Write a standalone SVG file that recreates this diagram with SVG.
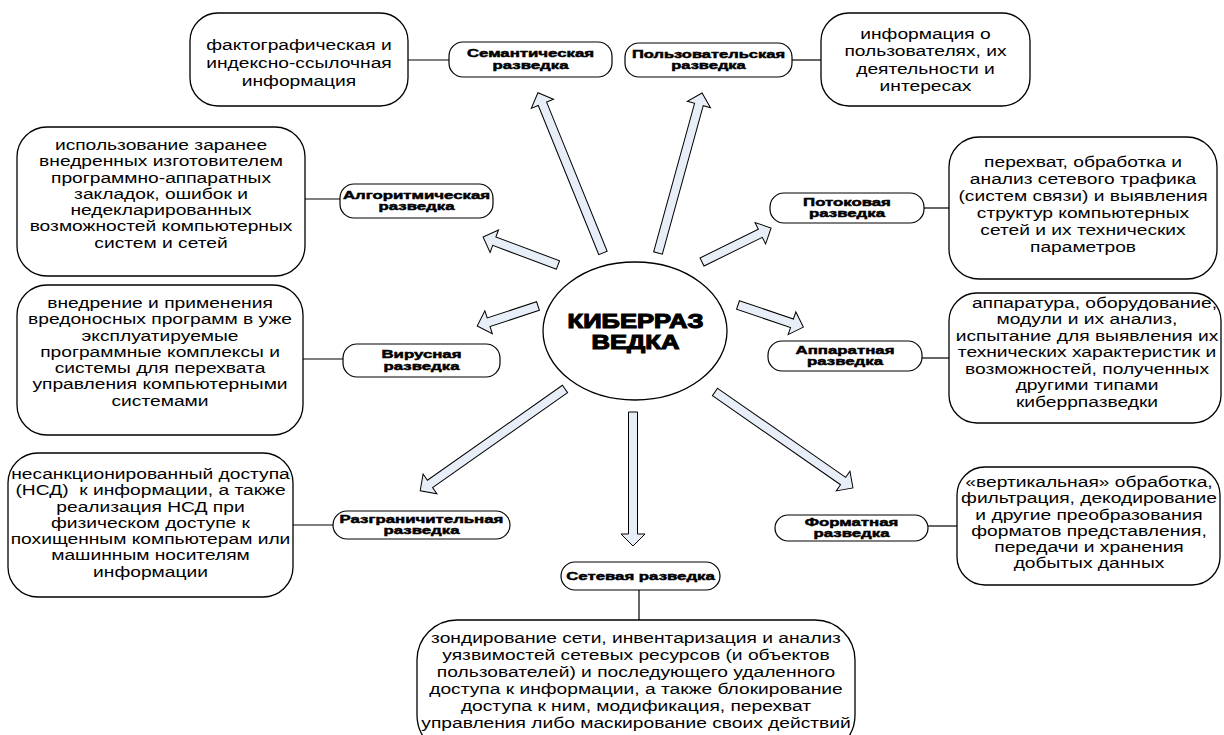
<svg xmlns="http://www.w3.org/2000/svg" width="1224" height="735" viewBox="0 0 1224 735">
<style>
.box{fill:#fff;stroke:#000;stroke-width:1.3}
.lbl{fill:#fff;stroke:#000;stroke-width:1.2}
.t{font-family:"Liberation Sans",Arial,sans-serif;font-size:15.5px;text-anchor:middle;fill:#000}
.lt{font-family:"Liberation Sans",Arial,sans-serif;font-size:10.5px;font-weight:bold;text-anchor:middle;fill:#000;stroke:#000;stroke-width:0.45}
.ct{font-family:"Liberation Sans",Arial,sans-serif;font-size:20px;font-weight:bold;text-anchor:middle;fill:#000;stroke:#000;stroke-width:1.1}
.arr{fill:#E8EEF8;stroke:#000;stroke-width:1}
.con{stroke:#000;stroke-width:1.2;fill:none}
</style>
<rect width="1224" height="735" fill="#fff"/>

<g id="connectors">
  <line class="con" x1="408" y1="60" x2="449" y2="60"/>
  <line class="con" x1="792" y1="60" x2="821" y2="60"/>
  <line class="con" x1="305" y1="199" x2="340" y2="199"/>
  <line class="con" x1="924" y1="208" x2="949" y2="208"/>
  <line class="con" x1="303" y1="359" x2="343" y2="359"/>
  <line class="con" x1="922" y1="358" x2="949" y2="358"/>
  <line class="con" x1="293" y1="525" x2="333" y2="525"/>
  <line class="con" x1="928" y1="526" x2="957" y2="526"/>
  <line class="con" x1="639" y1="590" x2="639" y2="620"/>
  <path class="arr" transform="translate(603,253) rotate(-112.1)" d="M0,-4.5 H161 V-12 L173,0 L161,12 V4.5 H0 Z"/>
  <path class="arr" transform="translate(658,253) rotate(-74.6)" d="M0,-4.5 H154 V-12 L166,0 L154,12 V4.5 H0 Z"/>
  <path class="arr" transform="translate(558,265) rotate(-159.5)" d="M0,-4.5 H68 V-12 L80,0 L68,12 V4.5 H0 Z"/>
  <path class="arr" transform="translate(538,306) rotate(161.8)" d="M0,-4.5 H52 V-12 L64,0 L52,12 V4.5 H0 Z"/>
  <path class="arr" transform="translate(565,389) rotate(144.9)" d="M0,-4.5 H165 V-12 L177,0 L165,12 V4.5 H0 Z"/>
  <path class="arr" transform="translate(633,412) rotate(90)" d="M0,-4.5 H122 V-12 L134,0 L122,12 V4.5 H0 Z"/>
  <path class="arr" transform="translate(715,392) rotate(34.8)" d="M0,-4.5 H156 V-12 L168,0 L156,12 V4.5 H0 Z"/>
  <path class="arr" transform="translate(738,305) rotate(18.7)" d="M0,-4.5 H57 V-12 L69,0 L57,12 V4.5 H0 Z"/>
  <path class="arr" transform="translate(702,262) rotate(-26.2)" d="M0,-4.5 H65 V-12 L77,0 L65,12 V4.5 H0 Z"/>
</g>

<g id="center">
  <ellipse cx="635" cy="331" rx="92" ry="69" fill="#fff" stroke="#000" stroke-width="1.3"/>
  <text class="ct" transform="translate(635.5,0) scale(1.28,1)"><tspan x="0" y="328">КИБЕРРАЗ</tspan><tspan x="0" y="349">ВЕДКА</tspan></text>
</g>

<g id="semantic">
  <rect class="lbl" x="449" y="42" width="163" height="35" rx="14"/>
  <text class="lt" transform="translate(530.5,0) scale(1.6,1)"><tspan x="0" y="57.5">Семантическая</tspan><tspan x="0" y="69">разведка</tspan></text>
</g>
<g id="semantic-info">
  <rect class="box" x="190" y="13" width="218" height="93" rx="28"/>
  <text class="t" transform="translate(299,0) scale(1.24,1)"><tspan x="0" y="50">фактографическая и</tspan><tspan x="0" y="68">индексно-ссылочная</tspan><tspan x="0" y="86">информация</tspan></text>
</g>

<g id="user">
  <rect class="lbl" x="625" y="43" width="167" height="34" rx="14"/>
  <text class="lt" transform="translate(708.5,0) scale(1.57,1)"><tspan x="0" y="58">Пользовательская</tspan><tspan x="0" y="69.5">разведка</tspan></text>
</g>
<g id="user-info">
  <rect class="box" x="821" y="13" width="209" height="93" rx="28"/>
  <text class="t" transform="translate(925.5,0) scale(1.24,1)"><tspan x="0" y="39">информация о</tspan><tspan x="0" y="56.5">пользователях, их</tspan><tspan x="0" y="74">деятельности и</tspan><tspan x="0" y="91.5">интересах</tspan></text>
</g>

<g id="algo">
  <rect class="lbl" x="340" y="184" width="153" height="34" rx="14"/>
  <text class="lt" transform="translate(416.5,0) scale(1.6,1)"><tspan x="0" y="199">Алгоритмическая</tspan><tspan x="0" y="210.5">разведка</tspan></text>
</g>
<g id="algo-info">
  <rect class="box" x="17" y="127" width="288" height="149" rx="30"/>
  <text class="t" transform="translate(161,0) scale(1.24,1)"><tspan x="0" y="150">использование заранее</tspan><tspan x="0" y="166.3">внедренных изготовителем</tspan><tspan x="0" y="182.6">программно-аппаратных</tspan><tspan x="0" y="198.9">закладок, ошибок и</tspan><tspan x="0" y="215.2">недекларированных</tspan><tspan x="0" y="231.5">возможностей компьютерных</tspan><tspan x="0" y="247.8">систем и сетей</tspan></text>
</g>

<g id="stream">
  <rect class="lbl" x="770" y="193" width="154" height="30" rx="14"/>
  <text class="lt" transform="translate(847,0) scale(1.6,1)"><tspan x="0" y="206">Потоковая</tspan><tspan x="0" y="217.5">разведка</tspan></text>
</g>
<g id="stream-info">
  <rect class="box" x="949" y="137" width="268" height="142" rx="30"/>
  <text class="t" transform="translate(1083,0) scale(1.24,1)"><tspan x="0" y="167">перехват, обработка и</tspan><tspan x="0" y="184">анализ сетевого трафика</tspan><tspan x="0" y="201">(систем связи) и выявления</tspan><tspan x="0" y="218">структур компьютерных</tspan><tspan x="0" y="235">сетей и их технических</tspan><tspan x="0" y="252">параметров</tspan></text>
</g>

<g id="virus">
  <rect class="lbl" x="343" y="344" width="157" height="33" rx="14"/>
  <text class="lt" transform="translate(421.5,0) scale(1.6,1)"><tspan x="0" y="358.5">Вирусная</tspan><tspan x="0" y="370">разведка</tspan></text>
</g>
<g id="virus-info">
  <rect class="box" x="17" y="285" width="286" height="150" rx="30"/>
  <text class="t" transform="translate(160,0) scale(1.24,1)"><tspan x="0" y="308">внедрение и применения</tspan><tspan x="0" y="324.3">вредоносных программ в уже</tspan><tspan x="0" y="340.6">эксплуатируемые</tspan><tspan x="0" y="356.9">программные комплексы и</tspan><tspan x="0" y="373.2">системы для перехвата</tspan><tspan x="0" y="389.5">управления компьютерными</tspan><tspan x="0" y="405.8">системами</tspan></text>
</g>

<g id="hardware">
  <rect class="lbl" x="768" y="341" width="154" height="30" rx="14"/>
  <text class="lt" transform="translate(845,0) scale(1.6,1)"><tspan x="0" y="354">Аппаратная</tspan><tspan x="0" y="365.5">разведка</tspan></text>
</g>
<g id="hardware-info">
  <rect class="box" x="949" y="293" width="272" height="130" rx="28"/>
  <text class="t" transform="translate(1087,0) scale(1.24,1)"><tspan x="6" y="308">аппаратура, оборудование,</tspan><tspan x="0" y="324.5">модули и их анализ,</tspan><tspan x="0" y="341">испытание для выявления их</tspan><tspan x="0" y="357.5">технических характеристик и</tspan><tspan x="0" y="374">возможностей, полученных</tspan><tspan x="0" y="390.5">другими типами</tspan><tspan x="0" y="407">киберрпазведки</tspan></text>
</g>

<g id="access">
  <rect class="lbl" x="333" y="511" width="177" height="28" rx="14"/>
  <text class="lt" transform="translate(421.5,0) scale(1.6,1)"><tspan x="0" y="523">Разграничительная</tspan><tspan x="0" y="534.5">разведка</tspan></text>
</g>
<g id="access-info">
  <rect class="box" x="8" y="453" width="285" height="144" rx="30"/>
  <text class="t" transform="translate(150.5,0) scale(1.24,1)" xml:space="preserve"><tspan x="0" y="479">несанкционированный доступа</tspan><tspan x="0" y="495.3">(НСД)  к информации, а также</tspan><tspan x="0" y="511.6">реализация НСД при</tspan><tspan x="0" y="527.9">физическом доступе к</tspan><tspan x="0" y="544.2">похищенным компьютерам или</tspan><tspan x="0" y="560.5">машинным носителям</tspan><tspan x="0" y="576.8">информации</tspan></text>
</g>

<g id="format">
  <rect class="lbl" x="775" y="515" width="153" height="26" rx="13"/>
  <text class="lt" transform="translate(851.5,0) scale(1.6,1)"><tspan x="0" y="526">Форматная</tspan><tspan x="0" y="537.5">разведка</tspan></text>
</g>
<g id="format-info">
  <rect class="box" x="957" y="467" width="263" height="118" rx="28"/>
  <text class="t" transform="translate(1089,0) scale(1.24,1)"><tspan x="0" y="487">«вертикальная» обработка,</tspan><tspan x="0" y="503.3">фильтрация, декодирование</tspan><tspan x="0" y="519.6">и другие преобразования</tspan><tspan x="0" y="535.9">форматов представления,</tspan><tspan x="0" y="552.2">передачи и хранения</tspan><tspan x="0" y="568.5">добытых данных</tspan></text>
</g>

<g id="network">
  <rect class="lbl" x="561" y="562" width="159" height="28" rx="14"/>
  <text class="lt" transform="translate(640.5,0) scale(1.6,1)"><tspan x="0" y="580">Сетевая разведка</tspan></text>
</g>
<g id="network-info">
  <rect class="box" x="417" y="620" width="438" height="135" rx="40"/>
  <text class="t" transform="translate(636,0) scale(1.24,1)"><tspan x="0" y="643">зондирование сети, инвентаризация и анализ</tspan><tspan x="0" y="660">уязвимостей сетевых ресурсов (и объектов</tspan><tspan x="0" y="677">пользователей) и последующего удаленного</tspan><tspan x="0" y="694">доступа к информации, а также блокирование</tspan><tspan x="0" y="711">доступа к ним, модификация, перехват</tspan><tspan x="0" y="728">управления либо маскирование своих действий</tspan></text>
</g>
</svg>
